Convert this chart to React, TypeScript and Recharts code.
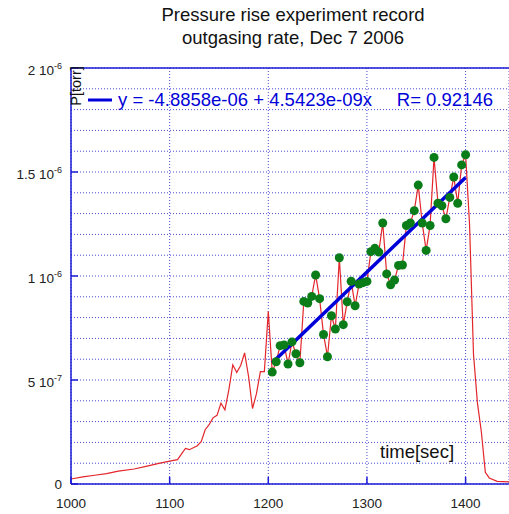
import React from 'react';
import { ComposedChart, Line, XAxis, YAxis, CartesianGrid } from 'recharts';

// pressure values are in units of 1e-6 torr
const rampTime = [1000, 1012, 1024, 1036, 1048, 1064, 1076, 1088, 1100, 1108, 1116, 1120, 1128, 1132, 1136, 1140, 1144, 1148, 1152, 1156, 1160, 1164, 1168, 1172, 1176, 1180, 1184, 1188, 1192, 1196, 1200];
const rampP = [0.024, 0.034, 0.042, 0.05, 0.062, 0.072, 0.085, 0.098, 0.11, 0.117, 0.171, 0.165, 0.184, 0.203, 0.261, 0.285, 0.318, 0.33, 0.389, 0.357, 0.453, 0.573, 0.536, 0.57, 0.63, 0.517, 0.363, 0.434, 0.54, 0.54, 0.83];

const fitTime = [1204, 1208, 1212, 1216, 1220, 1224, 1228, 1232, 1236, 1240, 1244, 1248, 1252, 1256, 1260, 1264, 1268, 1272, 1276, 1280, 1284, 1288, 1292, 1296, 1300, 1304, 1308, 1312, 1316, 1320, 1324, 1328, 1332, 1336, 1340, 1344, 1348, 1352, 1356, 1360, 1364, 1368, 1372, 1376, 1380, 1384, 1388, 1392, 1396, 1400];
const fitP = [0.538, 0.588, 0.665, 0.668, 0.577, 0.683, 0.626, 0.583, 0.878, 0.87, 0.902, 1.005, 0.891, 0.719, 0.612, 0.809, 0.745, 1.088, 0.766, 0.876, 0.975, 0.857, 0.961, 0.968, 0.974, 1.117, 1.133, 1.115, 1.255, 1.01, 0.958, 0.981, 1.051, 1.053, 1.243, 1.255, 1.314, 1.437, 1.255, 1.123, 1.243, 1.57, 1.35, 1.338, 1.275, 1.378, 1.476, 1.35, 1.534, 1.583];

const decayTime = [1404, 1408, 1412, 1416, 1420, 1424, 1432, 1444];
const decayP = [1.25, 0.625, 0.39, 0.25, 0.056, 0.029, 0.013, 0.01];

const fitIntercept = -4.8858e-6;
const fitSlope = 4.5423e-9;
const fitR = 0.92146;

const xTicks = [1000, 1100, 1200, 1300, 1400];
const yGridTicks = [0, 0.1, 0.2, 0.3, 0.4, 0.5, 0.6, 0.7, 0.8, 0.9, 1, 1.1, 1.2, 1.3, 1.4, 1.5, 1.6, 1.7, 1.8, 1.9, 2];
const yLabelValues = [0, 0.5, 1, 1.5, 2];
const yLabelMant = ['0', '5 10', '1 10', '1.5 10', '2 10'];
const yLabelExp = ['', '-7', '-6', '-6', '-6'];

const redData = [
  ...rampTime.map((t, i) => ({ t, p: rampP[i] })),
  ...fitTime.map((t, i) => ({ t, p: fitP[i] })),
  ...decayTime.map((t, i) => ({ t, p: decayP[i] })),
];
const dotData = fitTime.map((t, i) => ({ t, p: fitP[i] }));
const fitLine = [fitTime[0], fitTime[fitTime.length - 1]].map((t) => ({ t, p: (fitIntercept + fitSlope * t) * 1e6 }));

const font = '"Liberation Sans", Arial, sans-serif';
const axisBlue = '#1c1cd6';
const gridBlue = '#4a4ad8';

const YTick = (props: any) => {
  const { x, y, payload } = props;
  const idx = yLabelValues.findIndex((v) => Math.abs(v - payload.value) < 1e-9);
  if (idx < 0) return null;
  return (
    <g>
      <line x1={x} x2={x + 7} y1={y} y2={y} stroke={axisBlue} strokeWidth={1.5} />
      <text x={x - 9} y={y + (idx === 0 ? 5 : 7)} textAnchor="end" fontSize={13.5} fontFamily={font} fill="#222">
        <tspan>{yLabelMant[idx]}</tspan>
        {yLabelExp[idx] && <tspan dy={-6.5} fontSize={9}>{yLabelExp[idx]}</tspan>}
      </text>
    </g>
  );
};

const XTick = (props: any) => {
  const { x, y, payload } = props;
  return (
    <g>
      <line x1={x} x2={x} y1={y} y2={y - 7} stroke={axisBlue} strokeWidth={1.5} />
      <text x={x} y={y + 24} textAnchor="middle" fontSize={13.5} fontFamily={font} fill="#222">
        {payload.value}
      </text>
    </g>
  );
};

const TopTick = (props: any) => {
  const { x, y } = props;
  return <line x1={x} x2={x} y1={y} y2={y + 7} stroke={axisBlue} strokeWidth={1.5} />;
};

export default function App() {
  return (
    <div style={{ position: 'absolute', left: 0, top: 0, width: 509, height: 514, background: '#fff', fontFamily: font }}>
      <ComposedChart width={509} height={514} margin={{ top: 64, right: 0, bottom: 0, left: 0 }}>
        <CartesianGrid stroke={gridBlue} strokeDasharray="1 2" strokeWidth={1} />
        <XAxis
          dataKey="t"
          type="number"
          domain={[1000, 1444]}
          ticks={xTicks}
          allowDataOverflow
          height={30}
          tickSize={0}
          tickMargin={0}
          tickLine={false}
          axisLine={{ stroke: axisBlue, strokeWidth: 1.5 }}
          tick={<XTick />}
        />
        <XAxis
          xAxisId="top"
          orientation="top"
          type="number"
          domain={[1000, 1444]}
          ticks={xTicks}
          allowDataOverflow
          height={4}
          tickSize={0}
          tickMargin={0}
          tickLine={false}
          axisLine={{ stroke: axisBlue, strokeWidth: 1.5 }}
          tick={<TopTick />}
        />
        <YAxis
          type="number"
          domain={[0, 2]}
          ticks={yGridTicks}
          allowDataOverflow
          width={71}
          tickSize={0}
          tickMargin={0}
          tickLine={false}
          interval={0}
          axisLine={{ stroke: axisBlue, strokeWidth: 1.5 }}
          tick={<YTick />}
        />
        <Line data={redData} dataKey="p" stroke="#e3262b" strokeWidth={1.2} dot={false} isAnimationActive={false} />
        <Line data={fitLine} dataKey="p" stroke="#0000d8" strokeWidth={3.5} dot={false} isAnimationActive={false} />
        <Line
          data={dotData}
          dataKey="p"
          stroke="none"
          dot={{ r: 4.5, fill: '#0a7d19', stroke: '#0a7d19', strokeWidth: 0 }}
          isAnimationActive={false}
        />
      </ComposedChart>
      <svg width={509} height={514} style={{ position: 'absolute', left: 0, top: 0, pointerEvents: 'none' }}>
        <text x={293} y={21} textAnchor="middle" fontSize={18.5} fontFamily={font} fill="#111">
          Pressure rise experiment record
        </text>
        <text x={293} y={44} textAnchor="middle" fontSize={18.5} fontFamily={font} fill="#111">
          outgasing rate, Dec 7 2006
        </text>
        <line x1={88} x2={112} y1={100} y2={100} stroke="#0000d8" strokeWidth={3} />
        <text x={118} y={106} fontSize={18.5} fontFamily={font} fill="#0000d8">
          {`y = ${(fitIntercept).toExponential(4).replace('e-6', 'e-06')} + ${fitSlope.toExponential(4).replace('e-9', 'e-09')}x`}
        </text>
        <text x={493} y={106} textAnchor="end" fontSize={18.5} fontFamily={font} fill="#0000d8">
          {`R= ${fitR}`}
        </text>
        <text x={0} y={0} transform="translate(81,86) rotate(-90)" textAnchor="middle" fontSize={14.5} fontFamily={font} fill="#111">
          P[torr]
        </text>
        <text x={380} y={458} fontSize={18.5} fontFamily={font} fill="#111">
          time[sec]
        </text>
      </svg>
    </div>
  );
}
